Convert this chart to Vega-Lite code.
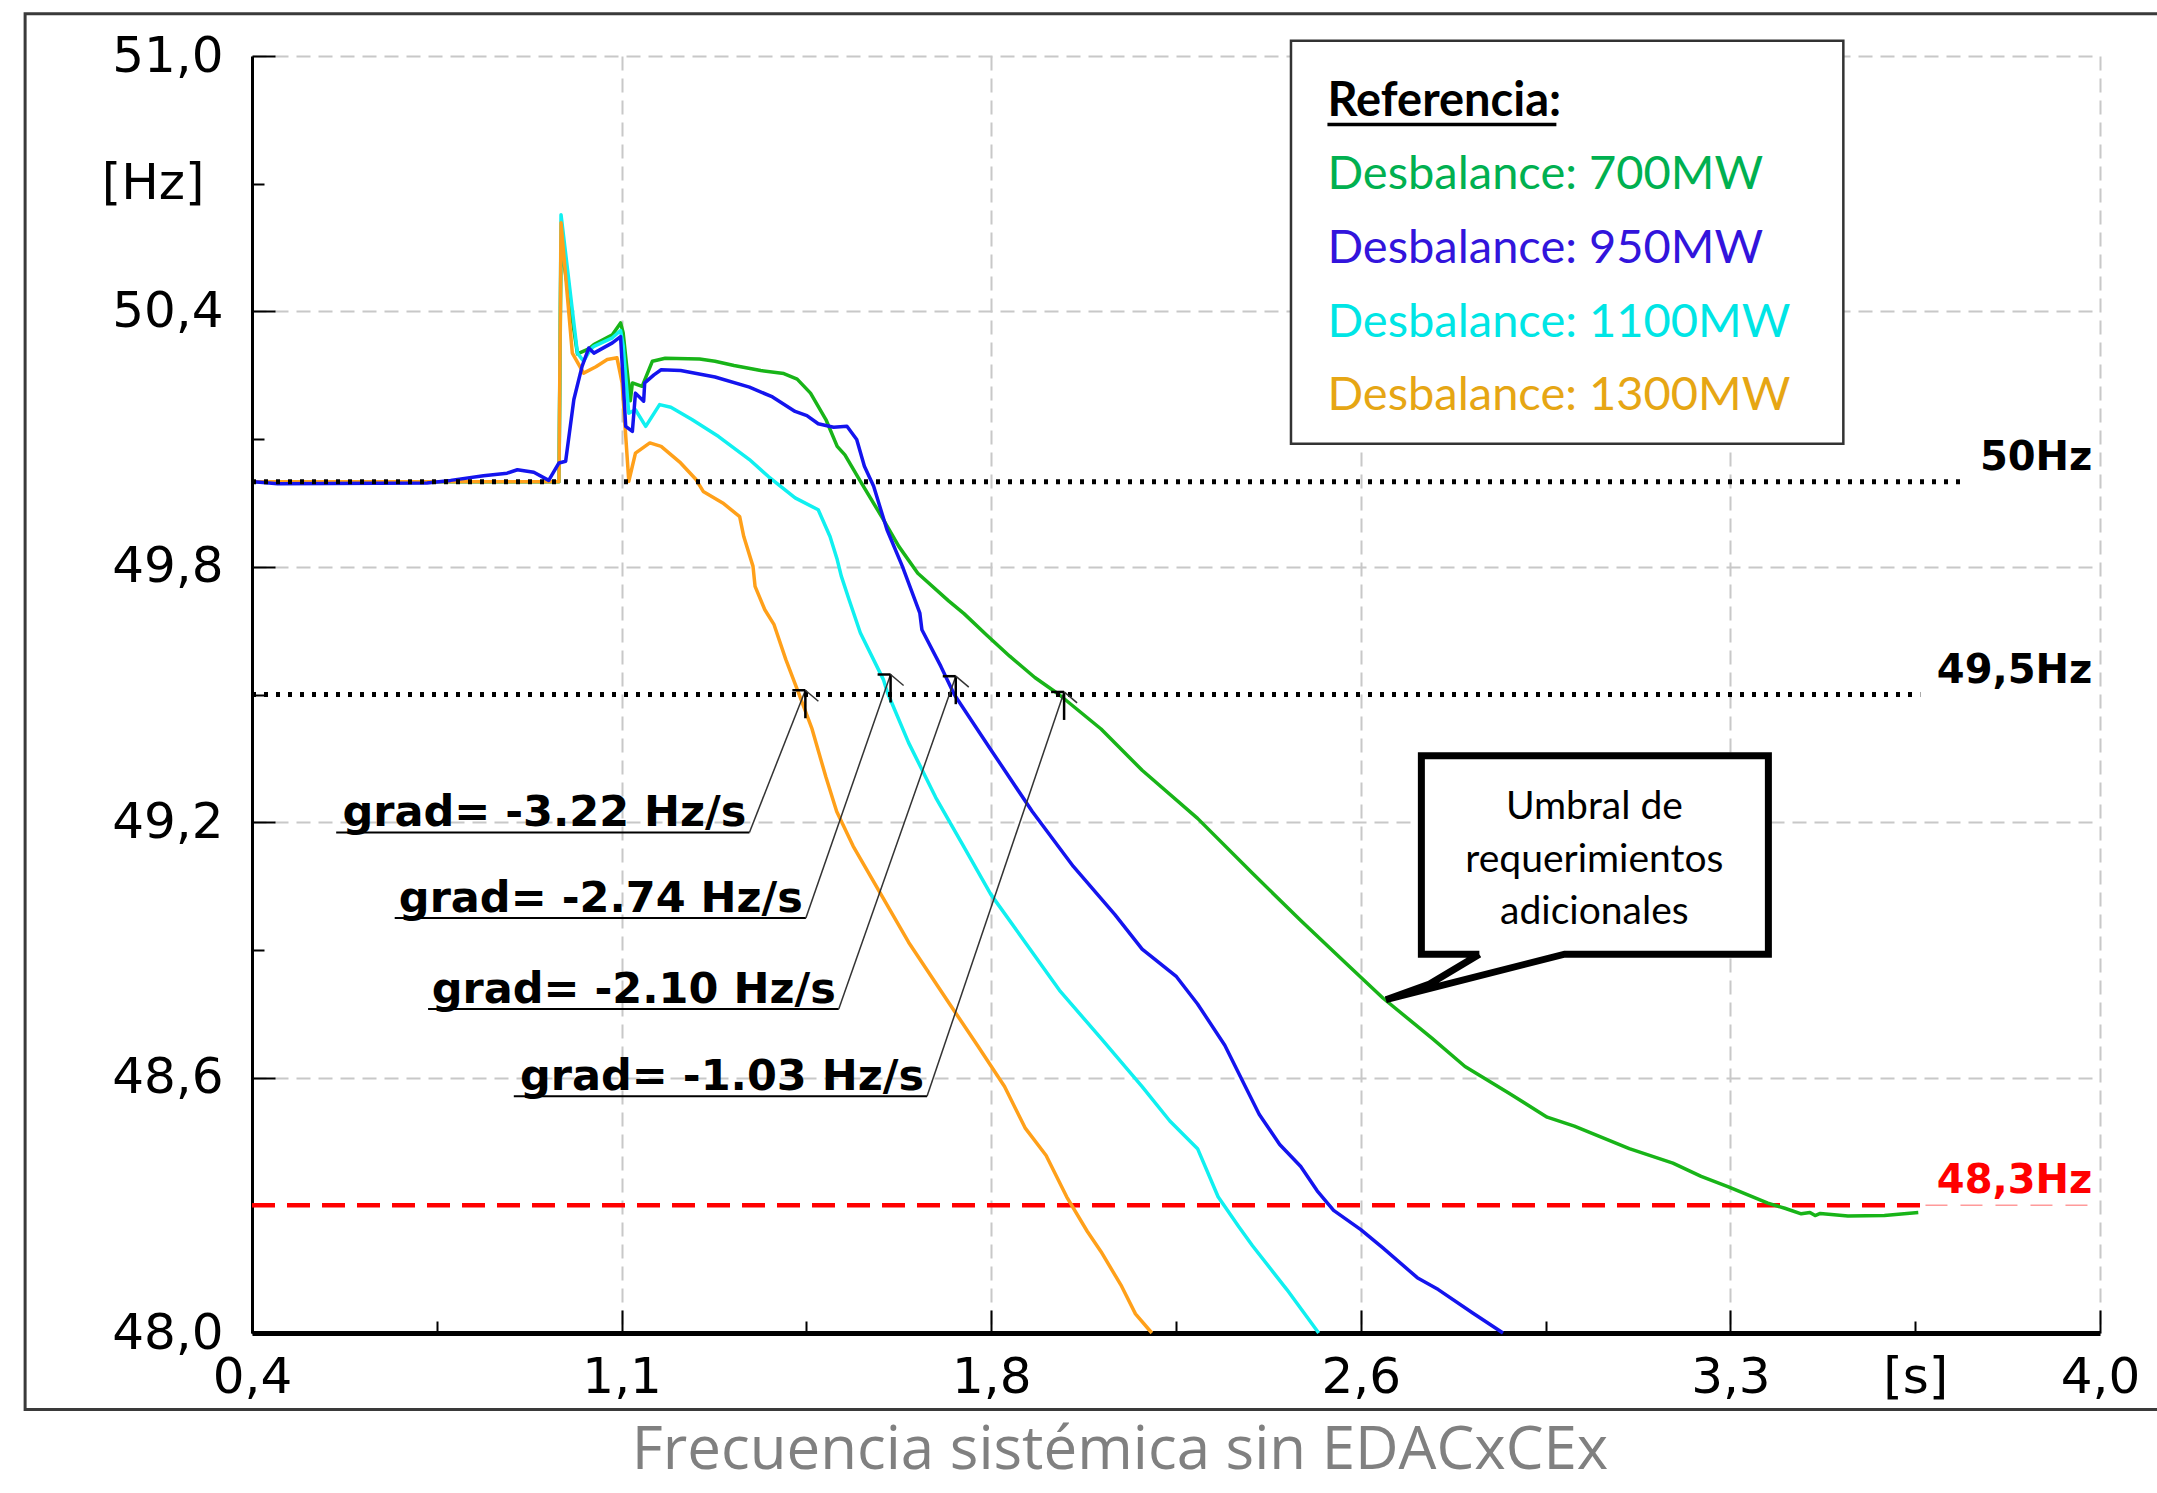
{
"$schema":"https://vega.github.io/schema/vega-lite/v6.json",
"width":1848,"height":1277,
"autosize":{"type":"none"},
"padding":{"left":252,"top":56,"right":57,"bottom":160},
"background":"white",
"config":{
 "view":{"stroke":null},
 "axis":{"domainColor":"#000","tickColor":"#000","labelColor":"#000","labelFont":"DejaVu Sans","labelFontSize":50,"labelFlush":false,"labelOverlap":false,"labelBound":false,"gridColor":"#c8c8c8","gridDash":[14,8],"gridWidth":2,"tickWidth":2,"title":null}
},
"title":{"text":"Frecuencia sistémica sin EDACxCEx","orient":"bottom","anchor":"middle","frame":"group","dx":-56,"offset":11,"font":"Open Sans","fontSize":60,"fontWeight":"normal","color":"#808080"},
"datasets":{
 "curves":[
  {"s":"700MW","t":0.4,"f":50.0},{"s":"700MW","t":0.998,"f":50.0},{"s":"700MW","t":1.002,"f":50.56},{"s":"700MW","t":1.034,"f":50.30},{"s":"700MW","t":1.056,"f":50.312},{"s":"700MW","t":1.066,"f":50.322},{"s":"700MW","t":1.102,"f":50.345},{"s":"700MW","t":1.118,"f":50.373},{"s":"700MW","t":1.123,"f":50.35},{"s":"700MW","t":1.137,"f":50.19},{"s":"700MW","t":1.141,"f":50.232},{"s":"700MW","t":1.160,"f":50.224},{"s":"700MW","t":1.180,"f":50.283},{"s":"700MW","t":1.205,"f":50.290},{"s":"700MW","t":1.272,"f":50.288},{"s":"700MW","t":1.302,"f":50.283},{"s":"700MW","t":1.339,"f":50.273},{"s":"700MW","t":1.391,"f":50.261},{"s":"700MW","t":1.436,"f":50.254},{"s":"700MW","t":1.462,"f":50.241},{"s":"700MW","t":1.488,"f":50.208},{"s":"700MW","t":1.518,"f":50.146},{"s":"700MW","t":1.540,"f":50.083},{"s":"700MW","t":1.555,"f":50.063},{"s":"700MW","t":1.585,"f":50.001},{"s":"700MW","t":1.630,"f":49.911},{"s":"700MW","t":1.660,"f":49.848},{"s":"700MW","t":1.697,"f":49.785},{"s":"700MW","t":1.757,"f":49.720},{"s":"700MW","t":1.787,"f":49.690},{"s":"700MW","t":1.831,"f":49.640},{"s":"700MW","t":1.876,"f":49.590},{"s":"700MW","t":1.925,"f":49.540},{"s":"700MW","t":1.972,"f":49.500},{"s":"700MW","t":2.054,"f":49.419},{"s":"700MW","t":2.134,"f":49.322},{"s":"700MW","t":2.242,"f":49.209},{"s":"700MW","t":2.349,"f":49.080},{"s":"700MW","t":2.443,"f":48.969},{"s":"700MW","t":2.530,"f":48.870},{"s":"700MW","t":2.603,"f":48.787},{"s":"700MW","t":2.699,"f":48.692},{"s":"700MW","t":2.763,"f":48.626},{"s":"700MW","t":2.848,"f":48.564},{"s":"700MW","t":2.923,"f":48.507},{"s":"700MW","t":2.976,"f":48.486},{"s":"700MW","t":3.083,"f":48.433},{"s":"700MW","t":3.168,"f":48.399},{"s":"700MW","t":3.223,"f":48.368},{"s":"700MW","t":3.275,"f":48.344},{"s":"700MW","t":3.353,"f":48.305},{"s":"700MW","t":3.386,"f":48.293},{"s":"700MW","t":3.418,"f":48.280},{"s":"700MW","t":3.435,"f":48.283},{"s":"700MW","t":3.445,"f":48.276},{"s":"700MW","t":3.455,"f":48.281},{"s":"700MW","t":3.509,"f":48.275},{"s":"700MW","t":3.580,"f":48.276},{"s":"700MW","t":3.646,"f":48.283},
  {"s":"1100MW","t":0.4,"f":50.0},{"s":"1100MW","t":0.998,"f":50.0},{"s":"1100MW","t":1.002,"f":50.627},{"s":"1100MW","t":1.034,"f":50.302},{"s":"1100MW","t":1.046,"f":50.283},{"s":"1100MW","t":1.059,"f":50.31},{"s":"1100MW","t":1.066,"f":50.318},{"s":"1100MW","t":1.102,"f":50.338},{"s":"1100MW","t":1.118,"f":50.355},{"s":"1100MW","t":1.123,"f":50.32},{"s":"1100MW","t":1.134,"f":50.161},{"s":"1100MW","t":1.147,"f":50.169},{"s":"1100MW","t":1.167,"f":50.130},{"s":"1100MW","t":1.194,"f":50.181},{"s":"1100MW","t":1.216,"f":50.175},{"s":"1100MW","t":1.257,"f":50.146},{"s":"1100MW","t":1.309,"f":50.106},{"s":"1100MW","t":1.369,"f":50.052},{"s":"1100MW","t":1.406,"f":50.012},{"s":"1100MW","t":1.458,"f":49.962},{"s":"1100MW","t":1.503,"f":49.934},{"s":"1100MW","t":1.526,"f":49.871},{"s":"1100MW","t":1.540,"f":49.817},{"s":"1100MW","t":1.548,"f":49.778},{"s":"1100MW","t":1.563,"f":49.723},{"s":"1100MW","t":1.585,"f":49.645},{"s":"1100MW","t":1.630,"f":49.535},{"s":"1100MW","t":1.638,"f":49.504},{"s":"1100MW","t":1.679,"f":49.387},{"s":"1100MW","t":1.732,"f":49.258},{"s":"1100MW","t":1.786,"f":49.144},{"s":"1100MW","t":1.839,"f":49.031},{"s":"1100MW","t":1.906,"f":48.918},{"s":"1100MW","t":1.973,"f":48.805},{"s":"1100MW","t":2.054,"f":48.692},{"s":"1100MW","t":2.134,"f":48.579},{"s":"1100MW","t":2.188,"f":48.498},{"s":"1100MW","t":2.242,"f":48.433},{"s":"1100MW","t":2.282,"f":48.320},{"s":"1100MW","t":2.322,"f":48.250},{"s":"1100MW","t":2.349,"f":48.205},{"s":"1100MW","t":2.416,"f":48.102},{"s":"1100MW","t":2.478,"f":48.0},
  {"s":"1300MW","t":0.4,"f":50.0},{"s":"1300MW","t":0.998,"f":50.0},{"s":"1300MW","t":1.002,"f":50.608},{"s":"1300MW","t":1.024,"f":50.302},{"s":"1300MW","t":1.046,"f":50.255},{"s":"1300MW","t":1.070,"f":50.270},{"s":"1300MW","t":1.092,"f":50.287},{"s":"1300MW","t":1.111,"f":50.291},{"s":"1300MW","t":1.121,"f":50.232},{"s":"1300MW","t":1.134,"f":50.001},{"s":"1300MW","t":1.147,"f":50.067},{"s":"1300MW","t":1.175,"f":50.091},{"s":"1300MW","t":1.197,"f":50.083},{"s":"1300MW","t":1.235,"f":50.044},{"s":"1300MW","t":1.265,"f":50.005},{"s":"1300MW","t":1.279,"f":49.977},{"s":"1300MW","t":1.317,"f":49.950},{"s":"1300MW","t":1.350,"f":49.918},{"s":"1300MW","t":1.358,"f":49.871},{"s":"1300MW","t":1.376,"f":49.801},{"s":"1300MW","t":1.380,"f":49.754},{"s":"1300MW","t":1.399,"f":49.699},{"s":"1300MW","t":1.417,"f":49.664},{"s":"1300MW","t":1.440,"f":49.582},{"s":"1300MW","t":1.466,"f":49.500},{"s":"1300MW","t":1.491,"f":49.419},{"s":"1300MW","t":1.518,"f":49.306},{"s":"1300MW","t":1.539,"f":49.225},{"s":"1300MW","t":1.571,"f":49.144},{"s":"1300MW","t":1.625,"f":49.031},{"s":"1300MW","t":1.679,"f":48.918},{"s":"1300MW","t":1.759,"f":48.773},{"s":"1300MW","t":1.813,"f":48.676},{"s":"1300MW","t":1.866,"f":48.579},{"s":"1300MW","t":1.906,"f":48.482},{"s":"1300MW","t":1.947,"f":48.417},{"s":"1300MW","t":1.987,"f":48.320},{"s":"1300MW","t":2.027,"f":48.239},{"s":"1300MW","t":2.054,"f":48.191},{"s":"1300MW","t":2.094,"f":48.110},{"s":"1300MW","t":2.121,"f":48.045},{"s":"1300MW","t":2.153,"f":48.0},
  {"s":"950MW","t":0.4,"f":50.0},{"s":"950MW","t":0.45,"f":49.995},{"s":"950MW","t":0.741,"f":49.997},{"s":"950MW","t":0.787,"f":50.003},{"s":"950MW","t":0.851,"f":50.014},{"s":"950MW","t":0.897,"f":50.020},{"s":"950MW","t":0.917,"f":50.028},{"s":"950MW","t":0.949,"f":50.022},{"s":"950MW","t":0.978,"f":50.003},{"s":"950MW","t":0.998,"f":50.044},{"s":"950MW","t":1.011,"f":50.048},{"s":"950MW","t":1.027,"f":50.193},{"s":"950MW","t":1.043,"f":50.271},{"s":"950MW","t":1.056,"f":50.314},{"s":"950MW","t":1.066,"f":50.302},{"s":"950MW","t":1.102,"f":50.326},{"s":"950MW","t":1.118,"f":50.341},{"s":"950MW","t":1.128,"f":50.130},{"s":"950MW","t":1.141,"f":50.118},{"s":"950MW","t":1.147,"f":50.208},{"s":"950MW","t":1.163,"f":50.189},{"s":"950MW","t":1.165,"f":50.232},{"s":"950MW","t":1.183,"f":50.251},{"s":"950MW","t":1.197,"f":50.263},{"s":"950MW","t":1.235,"f":50.261},{"s":"950MW","t":1.302,"f":50.246},{"s":"950MW","t":1.369,"f":50.222},{"s":"950MW","t":1.414,"f":50.199},{"s":"950MW","t":1.458,"f":50.165},{"s":"950MW","t":1.481,"f":50.155},{"s":"950MW","t":1.503,"f":50.136},{"s":"950MW","t":1.533,"f":50.128},{"s":"950MW","t":1.559,"f":50.130},{"s":"950MW","t":1.578,"f":50.099},{"s":"950MW","t":1.593,"f":50.036},{"s":"950MW","t":1.611,"f":49.989},{"s":"950MW","t":1.637,"f":49.887},{"s":"950MW","t":1.667,"f":49.801},{"s":"950MW","t":1.701,"f":49.691},{"s":"950MW","t":1.705,"f":49.652},{"s":"950MW","t":1.742,"f":49.566},{"s":"950MW","t":1.768,"f":49.500},{"s":"950MW","t":1.839,"f":49.371},{"s":"950MW","t":1.920,"f":49.225},{"s":"950MW","t":2.000,"f":49.096},{"s":"950MW","t":2.081,"f":48.983},{"s":"950MW","t":2.134,"f":48.902},{"s":"950MW","t":2.201,"f":48.837},{"s":"950MW","t":2.242,"f":48.773},{"s":"950MW","t":2.295,"f":48.676},{"s":"950MW","t":2.335,"f":48.579},{"s":"950MW","t":2.362,"f":48.514},{"s":"950MW","t":2.402,"f":48.443},{"s":"950MW","t":2.443,"f":48.391},{"s":"950MW","t":2.475,"f":48.334},{"s":"950MW","t":2.507,"f":48.288},{"s":"950MW","t":2.560,"f":48.243},{"s":"950MW","t":2.603,"f":48.200},{"s":"950MW","t":2.670,"f":48.130},{"s":"950MW","t":2.711,"f":48.102},{"s":"950MW","t":2.778,"f":48.047},{"s":"950MW","t":2.837,"f":48.0}
 ],
 "boxes":[
  {"k":"frame","t":-0.042,"t2":4.3,"f":51.099,"f2":47.82},
  {"k":"legend","t":2.424,"t2":3.5,"f":51.036,"f2":50.089},
  {"k":"callout","t":2.678,"t2":3.354,"f":49.356,"f2":48.890}
 ],
 "outline":[
  {"i":0,"t":2.791,"f":48.890},{"i":1,"t":2.678,"f":48.890},{"i":2,"t":2.678,"f":49.356},{"i":3,"t":3.354,"f":49.356},{"i":4,"t":3.354,"f":48.890},{"i":5,"t":2.957,"f":48.890},{"i":6,"t":2.609,"f":48.783},{"i":7,"t":2.694,"f":48.820},{"i":8,"t":2.791,"f":48.890}
 ],
 "callouttext":[
  {"label":"Umbral de","t":3.015,"f":49.207},{"label":"requerimientos","t":3.015,"f":49.084},{"label":"adicionales","t":3.015,"f":48.960}
 ],
 "legend":[
  {"label":"Desbalance: 700MW","s":"700MW","t":2.495,"f":50.688},
  {"label":"Desbalance: 950MW","s":"950MW","t":2.495,"f":50.514},
  {"label":"Desbalance: 1100MW","s":"1100MW","t":2.495,"f":50.341},
  {"label":"Desbalance: 1300MW","s":"1300MW","t":2.495,"f":50.169}
 ],
 "legendtitle":[{"label":"Referencia:","t":2.495,"t2":2.941,"f":50.858,"fu":50.839}],
 "grads":[
  {"label":"grad= -3.22 Hz/s","t":0.564,"t2":1.369,"f":49.176,"tt":1.478,"ft":49.510},
  {"label":"grad= -2.74 Hz/s","t":0.678,"t2":1.479,"f":48.975,"tt":1.644,"ft":49.547},
  {"label":"grad= -2.10 Hz/s","t":0.743,"t2":1.543,"f":48.761,"tt":1.771,"ft":49.543},
  {"label":"grad= -1.03 Hz/s","t":0.910,"t2":1.715,"f":48.556,"tt":1.982,"ft":49.506}
 ],
 "refs":[
  {"label":"50Hz","t":0.4,"t2":3.73,"f":50.0,"tl":3.985},
  {"label":"49,5Hz","t":0.4,"t2":3.65,"f":49.5,"tl":3.985}
 ],
 "red":[
  {"part":"main","label":"48,3Hz","t":0.4,"t2":3.66,"f":48.3,"tl":3.985},
  {"part":"tail","label":"","t":3.66,"t2":4.0,"f":48.3,"tl":3.985}
 ]
},
"encoding":{
 "x":{"field":"t","type":"quantitative","scale":{"domain":[0.4,4.0],"nice":false,"zero":false},"axis":null},
 "y":{"field":"f","type":"quantitative","scale":{"domain":[48,51],"nice":false,"zero":false},"axis":null}
},
"layer":[
 {"data":{"name":"boxes"},"transform":[{"filter":"datum.k == 'frame'"}],
  "mark":{"type":"rect","filled":false,"stroke":"#3a3a3a","strokeWidth":3},
  "encoding":{"x2":{"field":"t2"},"y2":{"field":"f2"}}},
 {"data":{"name":"red"},"transform":[{"filter":"datum.part == 'main'"}],
  "mark":{"type":"rule","stroke":"#ff0000","strokeWidth":4.5,"strokeDash":[23,12]},
  "encoding":{"x2":{"field":"t2"}}},
 {"data":{"name":"red"},"transform":[{"filter":"datum.part == 'tail'"}],
  "mark":{"type":"rule","stroke":"#ff9a9a","strokeWidth":1.5,"strokeDash":[22,13]},
  "encoding":{"x2":{"field":"t2"}}},
 {"data":{"name":"curves"},
  "mark":{"type":"line","strokeJoin":"round"},
  "encoding":{
   "x":{"field":"t","type":"quantitative","scale":{"domain":[0.4,4.0],"nice":false,"zero":false},
        "axis":{"orient":"bottom","values":[0.4,1.12,1.84,2.56,3.28,4.0],"labelExpr":"replace(format(datum.value,'.1f'),'.',',')","grid":true,"tickSize":-23,"labelPadding":42,"domainWidth":5}},
   "y":{"field":"f","type":"quantitative","scale":{"domain":[48,51],"nice":false,"zero":false},
        "axis":{"orient":"left","values":[48,48.6,49.2,49.8,50.4,51],"labelExpr":"replace(format(datum.value,'.1f'),'.',',')","grid":true,"tickSize":-23,"labelPadding":52,"domainWidth":3}},
   "color":{"field":"s","type":"nominal","scale":{"domain":["700MW","1100MW","1300MW","950MW"],"range":["#18b418","#10f0f0","#ffa01a","#1414ee"]},"legend":null},
   "strokeWidth":{"field":"s","type":"nominal","scale":{"domain":["700MW","1100MW","1300MW","950MW"],"range":[3.5,3.5,3.5,4.2]},"legend":null}
  }},
 {"data":{"name":"refs"},
  "mark":{"type":"rule","stroke":"#000","strokeWidth":5,"strokeDash":[4,8]},
  "encoding":{
   "x":{"field":"t","type":"quantitative","scale":{"domain":[0.4,4.0],"nice":false,"zero":false},
        "axis":{"orient":"bottom","values":[0.76,1.48,2.2,2.92,3.64],"labelExpr":"datum.value > 3.6 ? '[s]' : ''","grid":false,"domain":false,"tickSize":-12,"labelPadding":31}},
   "y":{"field":"f","type":"quantitative","scale":{"domain":[48,51],"nice":false,"zero":false},
        "axis":{"orient":"left","values":[48.3,48.9,49.5,50.1,50.7],"labelExpr":"datum.value > 50.6 ? '[Hz]' : ''","grid":false,"domain":false,"tickSize":-12,"labelPadding":60}},
   "x2":{"field":"t2"}
  }},
 {"data":{"name":"refs"},
  "mark":{"type":"text","align":"right","baseline":"alphabetic","dy":-12,"font":"DejaVu Sans","fontWeight":"bold","fontSize":40,"color":"#000"},
  "encoding":{"x":{"field":"tl","type":"quantitative","axis":null},"text":{"field":"label"}}},
 {"data":{"name":"red"},"transform":[{"filter":"datum.part == 'main'"}],
  "mark":{"type":"text","align":"right","baseline":"alphabetic","dy":-12,"font":"DejaVu Sans","fontWeight":"bold","fontSize":40,"color":"#ff0000"},
  "encoding":{"x":{"field":"tl","type":"quantitative","axis":null},"text":{"field":"label"}}},
 {"data":{"name":"grads"},
  "mark":{"type":"rule","stroke":"#000","strokeWidth":2},
  "encoding":{"x2":{"field":"t2"}}},
 {"data":{"name":"grads"},
  "mark":{"type":"rule","stroke":"#333","strokeWidth":1.5},
  "encoding":{"x":{"field":"t2","type":"quantitative","axis":null},"x2":{"field":"tt"},"y2":{"field":"ft"}}},
 {"data":{"name":"grads"},
  "mark":{"type":"rule","stroke":"#000","strokeWidth":2.5,"y2Offset":28},
  "encoding":{"x":{"field":"tt","type":"quantitative","axis":null},"y":{"field":"ft","type":"quantitative","axis":null},"y2":{"field":"ft"}}},
 {"data":{"name":"grads"},
  "mark":{"type":"rule","stroke":"#000","strokeWidth":2.5,"xOffset":-13},
  "encoding":{"x":{"field":"tt","type":"quantitative","axis":null},"x2":{"field":"tt"},"y":{"field":"ft","type":"quantitative","axis":null}}},
 {"data":{"name":"grads"},
  "mark":{"type":"rule","stroke":"#333","strokeWidth":1.5,"x2Offset":13,"y2Offset":11},
  "encoding":{"x":{"field":"tt","type":"quantitative","axis":null},"x2":{"field":"tt"},"y":{"field":"ft","type":"quantitative","axis":null},"y2":{"field":"ft"}}},
 {"data":{"name":"grads"},
  "mark":{"type":"text","align":"right","baseline":"alphabetic","dx":-3,"dy":-6,"font":"DejaVu Sans","fontWeight":"bold","fontSize":43,"color":"#000"},
  "encoding":{"x":{"field":"t2","type":"quantitative","axis":null},"text":{"field":"label"}}},
 {"data":{"name":"boxes"},"transform":[{"filter":"datum.k == 'legend'"}],
  "mark":{"type":"rect","fill":"#ffffff","stroke":"#333","strokeWidth":2.5},
  "encoding":{"x2":{"field":"t2"},"y2":{"field":"f2"}}},
 {"data":{"name":"legendtitle"},
  "mark":{"type":"text","align":"left","baseline":"alphabetic","font":"Lato","fontWeight":"bold","fontSize":47,"color":"#000"},
  "encoding":{"text":{"field":"label"}}},
 {"data":{"name":"legendtitle"},
  "mark":{"type":"rule","stroke":"#000","strokeWidth":3.5},
  "encoding":{"x2":{"field":"t2"},"y":{"field":"fu","type":"quantitative","axis":null}}},
 {"data":{"name":"legend"},
  "mark":{"type":"text","align":"left","baseline":"alphabetic","font":"Lato","fontSize":47},
  "encoding":{"text":{"field":"label"},
   "color":{"field":"s","type":"nominal","scale":{"domain":["700MW","950MW","1100MW","1300MW"],"range":["#00b050","#3214dc","#00e5e5","#e6a614"]},"legend":null}}},
 {"data":{"name":"boxes"},"transform":[{"filter":"datum.k == 'callout'"}],
  "mark":{"type":"rect","fill":"#ffffff","strokeWidth":0},
  "encoding":{"x2":{"field":"t2"},"y2":{"field":"f2"}}},
 {"data":{"name":"outline"},
  "mark":{"type":"line","stroke":"#000","strokeWidth":7,"strokeJoin":"miter","strokeMiterLimit":4},
  "encoding":{"order":{"field":"i","type":"quantitative"}}},
 {"data":{"name":"callouttext"},
  "mark":{"type":"text","align":"center","baseline":"alphabetic","font":"Lato","fontSize":39,"color":"#000"},
  "encoding":{"text":{"field":"label"}}}
],
"resolve":{"axis":{"x":"independent","y":"independent"},"scale":{"color":"independent"}}
}
